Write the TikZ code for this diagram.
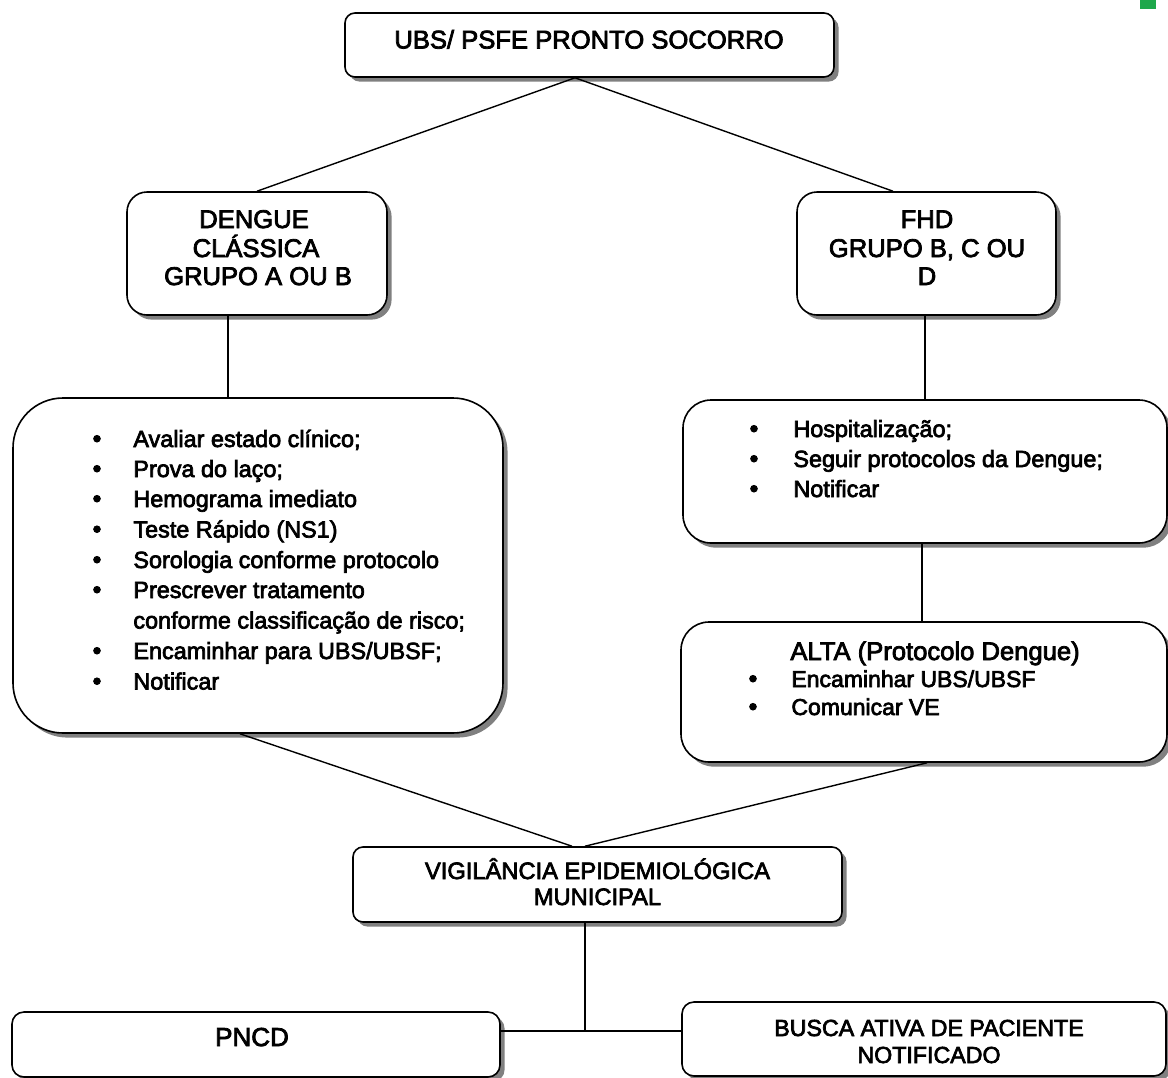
\documentclass[tikz,border=0pt]{standalone}
\usepackage{fontspec}
\setmainfont{Liberation Sans}[FakeBold=3]
\usetikzlibrary{shadows,calc}
\definecolor{shadowgray}{gray}{0.5}
\definecolor{markgreen}{RGB}{30,168,75}
\begin{document}
\begin{tikzpicture}[x=0.5pt,y=-0.5pt,
  box/.style={draw=black, line width=0.8pt, fill=white, rounded corners=#1, inner sep=0pt,
    drop shadow={shadow xshift=2.3pt, shadow yshift=-2.3pt, fill=shadowgray, opacity=1}},
  conn/.style={draw=black, line width=0.7pt},
  txt/.style={inner sep=0pt, anchor=base, font=\fontsize{12.8}{14}\selectfont},
  vtxt/.style={inner sep=0pt, anchor=base, font=\fontsize{11.85}{14}\selectfont},
  btxt/.style={inner sep=0pt, anchor=base, font=\fontsize{11.6}{14}\selectfont},
  lst/.style={inner sep=0pt, anchor=base west, font=\fontsize{11.7}{14}\selectfont},
  bul/.style={inner sep=0pt, anchor=base, font=\fontsize{12.5}{14}\selectfont}]

\useasboundingbox (0,0) rectangle (1168,1077);
\fill[white] (0,0) rectangle (1168,1077);

\node[fill=markgreen, minimum width=8pt, minimum height=4.5pt, inner sep=0pt, anchor=north west] (gm) at (1140,0) {};

% boxes
\node[box=5pt, minimum width=244.5pt, minimum height=32pt] (top) at (589.5,45) {};
\node[box=10pt, minimum width=130pt, minimum height=61.5pt] (deng) at (257,253.5) {};
\node[box=10pt, minimum width=129.5pt, minimum height=61.5pt] (fhd) at (926.5,253.5) {};
\node[box=25pt, minimum width=245pt, minimum height=167.5pt] (lbox) at (258,565.5) {};
\node[box=14pt, minimum width=242pt, minimum height=71.5pt] (rbox) at (925,471.5) {};
\node[box=14pt, minimum width=243pt, minimum height=70pt] (alta) at (924,692) {};
\node[box=5pt, minimum width=244.5pt, minimum height=37.5pt] (ve) at (597.5,884.5) {};
\node[box=6pt, minimum width=244pt, minimum height=32.5pt] (pncd) at (256,1044.5) {};
\node[box=6pt, minimum width=242pt, minimum height=37pt] (busca) at (924,1039) {};

% connectors
\coordinate (tj) at ($(top.south)+(-14.5,0)$);
\draw[conn] (tj) -- (deng.north);
\draw[conn] (tj) -- ($(fhd.north)+(-33.5,0)$);
\coordinate (dj) at ($(deng.south)+(-29,0)$);
\draw[conn] (dj) -- (dj |- lbox.north);
\coordinate (fj) at ($(fhd.south)+(-1.5,0)$);
\draw[conn] (fj) -- (fj |- rbox.north);
\coordinate (rj) at ($(rbox.south)+(-3,0)$);
\draw[conn] (rj) -- (rj |- alta.north);
\draw[conn] ($(lbox.south)+(-18,0)$) -- ($(ve.north)+(-25.5,0)$);
\draw[conn] ($(alta.south)+(3,0)$) -- ($(ve.north)+(-12.5,0)$);
\coordinate (vj) at ($(ve.south)+(-12.5,0)$);
\coordinate (hj) at (585,1031);
\draw[conn] (vj) -- (vj |- hj);
\draw[conn] (pncd.east |- hj) -- (busca.west |- hj);

% texts
\node[txt] (topt) at (589,48.5) {UBS/ PSFE PRONTO SOCORRO};
\node[txt] (d1) at (254,228) {DENGUE};
\node[txt] (d2) at (256,257) {CLÁSSICA};
\node[txt] (d3) at (258,285) {GRUPO A OU B};
\node[txt] (f1) at (927,228) {FHD};
\node[txt] (f2) at (927,257) {GRUPO B, C OU};
\node[txt] (f3) at (927,285) {D};

\node[bul] (lb1) at (97,447) {•};
\node[lst] (l1) at (133,447) {Avaliar estado clínico;};
\node[bul] (lb2) at (97,477) {•};
\node[lst] (l2) at (133,477) {Prova do laço;};
\node[bul] (lb3) at (97,507) {•};
\node[lst] (l3) at (133,507) {Hemograma imediato};
\node[bul] (lb4) at (97,537.5) {•};
\node[lst] (l4) at (133,537.5) {Teste Rápido (NS1)};
\node[bul] (lb5) at (97,568) {•};
\node[lst] (l5) at (133,568) {Sorologia conforme protocolo};
\node[bul] (lb6) at (97,598) {•};
\node[lst] (l6) at (133,598) {Prescrever tratamento};
\node[lst] (l7) at (133,628.5) {conforme classificação de risco;};
\node[bul] (lb8) at (97,659) {•};
\node[lst] (l8) at (133,659) {Encaminhar para UBS/UBSF;};
\node[bul] (lb9) at (97,689.5) {•};
\node[lst] (l9) at (133,689.5) {Notificar};

\node[bul] (rb1) at (754,437) {•};
\node[lst] (r1) at (793,437) {Hospitalização;};
\node[bul] (rb2) at (754,467) {•};
\node[lst] (r2) at (793,467) {Seguir protocolos da Dengue;};
\node[bul] (rb3) at (754,497) {•};
\node[lst] (r3) at (793,497) {Notificar};

\node[txt, anchor=base west] (a0) at (790,660) {ALTA (Protocolo Dengue)};
\node[bul] (ab1) at (753,687) {•};
\node[lst, font=\fontsize{11.5}{14}\selectfont] (a1) at (791,687) {Encaminhar UBS/UBSF};
\node[bul] (ab2) at (753,715) {•};
\node[lst, font=\fontsize{11.5}{14}\selectfont] (a2) at (791,715) {Comunicar VE};

\node[vtxt] (v1) at (597.5,879) {VIGILÂNCIA EPIDEMIOLÓGICA};
\node[vtxt] (v2) at (597.5,905) {MUNICIPAL};

\node[txt, font=\fontsize{13}{14}\selectfont] (p1) at (252,1046) {PNCD};
\node[btxt] (b1) at (929,1036) {BUSCA ATIVA DE PACIENTE};
\node[btxt] (b2) at (929,1063) {NOTIFICADO};
\end{tikzpicture}
\end{document}
